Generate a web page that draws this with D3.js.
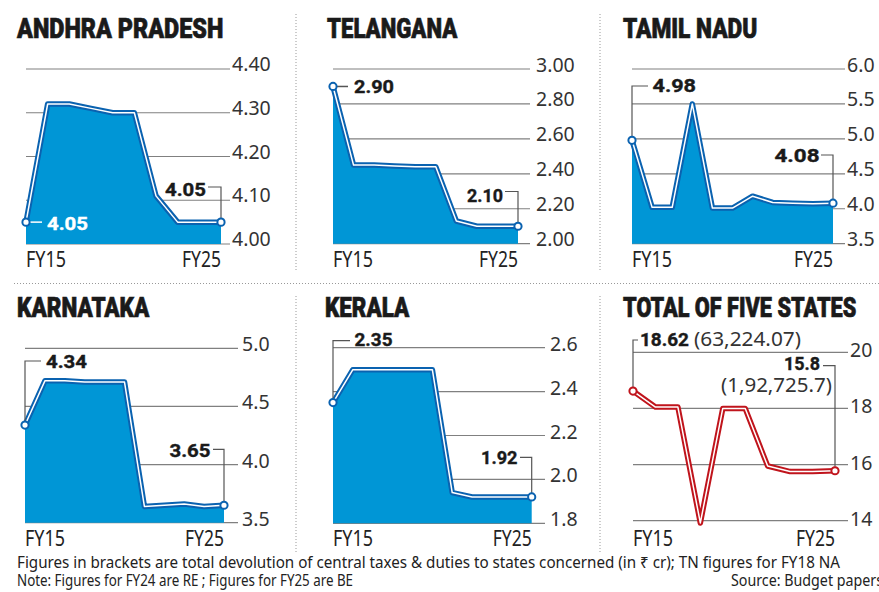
<!DOCTYPE html>
<html>
<head>
<meta charset="utf-8">
<style>
  body { margin: 0; background: #fff; }
  svg { display: block; }
</style>
<script src="https://cdn.jsdelivr.net/npm/d3@7"></script>
</head>
<body>
<svg id="chart"></svg>
<script>
// data
const fyLabels = ["FY15", "FY25"];

const apValues = [4.05, 4.32, 4.32, 4.31, 4.30, 4.30, 4.11, 4.05, 4.05, 4.05];
const tgValues = [2.90, 2.45, 2.45, 2.445, 2.44, 2.44, 2.13, 2.10, 2.10, 2.10];
const tnValues = [4.98, 4.02, 4.02, 5.50, 4.01, 4.01, 4.18, 4.09, 4.08, 4.07, 4.08];
const kaValues = [4.34, 4.72, 4.72, 4.71, 4.71, 4.71, 3.64, 3.65, 3.66, 3.64, 3.65];
const klValues = [2.35, 2.50, 2.50, 2.50, 2.50, 2.50, 1.94, 1.92, 1.92, 1.92, 1.92];
const totalValues = [18.62, 18.05, 18.05, 13.92, 18.0, 18.0, 15.95, 15.75, 15.75, 15.78];

const apTicks = [4.0, 4.1, 4.2, 4.3, 4.4];
const tgTicks = [2.0, 2.2, 2.4, 2.6, 2.8, 3.0];
const tnTicks = [3.5, 4.0, 4.5, 5.0, 5.5, 6.0];
const kaTicks = [3.5, 4.0, 4.5, 5.0];
const klTicks = [1.8, 2.0, 2.2, 2.4, 2.6];
const totalTicks = [14, 16, 18, 20];

const apNotes = ["4.05", "4.05"];
const tgNotes = ["2.90", "2.10"];
const tnNotes = ["4.98", "4.08"];
const kaNotes = ["4.34", "3.65"];
const klNotes = ["2.35", "1.92"];
const totalNotes = ["18.62", "(63,224.07)", "15.8", "(1,92,725.7)"];

const titles = ["ANDHRA PRADESH", "TELANGANA", "TAMIL NADU", "KARNATAKA", "KERALA", "TOTAL OF FIVE STATES"];
const footLines = [
  "Figures in brackets are total devolution of central taxes & duties to states concerned (in \u20b9 cr); TN figures for FY18 NA",
  "Note: Figures for FY24 are RE ; Figures for FY25 are BE"
];
const source = "Source: Budget papers";

const W = 879, H = 592;
const BLUE = "#0a62b0", FILL = "#0096d6", RED = "#c0141c";
const TITLE_FONT = "Roboto, 'Liberation Sans', sans-serif";
const TEXT_FONT = "'Noto Sans', 'Open Sans', sans-serif";

const svg = d3.select("#chart").attr("width", W).attr("height", H);

function fit(sel, w) {
    return sel.attr("textLength", w).attr("lengthAdjust", "spacingAndGlyphs");
}

// separators
const sep = svg.append("g").attr("stroke", "#999").attr("stroke-width", 1).attr("stroke-dasharray", "1,2");
sep.append("line").attr("x1", 296).attr("x2", 296).attr("y1", 14).attr("y2", 272);
sep.append("line").attr("x1", 600).attr("x2", 600).attr("y1", 14).attr("y2", 272);
sep.append("line").attr("x1", 14).attr("x2", W).attr("y1", 283.5).attr("y2", 283.5);
sep.append("line").attr("x1", 296).attr("x2", 296).attr("y1", 296).attr("y2", 552);
sep.append("line").attr("x1", 600).attr("x2", 600).attr("y1", 296).attr("y2", 552);

const panels = [
    { title: titles[0], tx: 17, ty: 38, tw: 207, values: apValues, ticks: apTicks, notes: apNotes, fmt: ".2f",
      x0: 26, x1: 221, gridEnd: 230, yTop: 69, yBot: 244, tickX: 232, tickDy: 2, fyY: 267, color: BLUE, fill: true,
      start: { kind: "h", lx: 42, color: "#fff", tx: 47, ty: 229.5, w: 41, textColor: "#fff" },
      end: { ly: 187, lx: 208, tx: 165, ty: 196, w: 41 } },
    { title: titles[1], tx: 327, ty: 38, tw: 131, values: tgValues, ticks: tgTicks, notes: tgNotes, fmt: ".2f",
      x0: 333, x1: 518, gridEnd: 530, yTop: 69, yBot: 243.7, tickX: 536, tickDy: 2.5, fyY: 267, color: BLUE, fill: true,
      start: { kind: "h", lx: 348, color: "#555", tx: 354, ty: 92.5, w: 40 },
      end: { ly: 191.5, lx: 505, tx: 467, ty: 201.5, w: 36 } },
    { title: titles[2], tx: 623, ty: 38, tw: 135, values: tnValues, ticks: tnTicks, notes: tnNotes, fmt: ".1f",
      x0: 632, x1: 833, gridEnd: 845, yTop: 69, yBot: 243.7, tickX: 847, tickDy: 2.5, fyY: 267, color: BLUE, fill: true,
      start: { kind: "elbow", ly: 86, lx: 648, tx: 652.5, ty: 91.5, w: 43.5 },
      end: { ly: 155, lx: 821, tx: 774.5, ty: 162, w: 45 } },
    { title: titles[3], tx: 17, ty: 316.7, tw: 133, values: kaValues, ticks: kaTicks, notes: kaNotes, fmt: ".1f",
      x0: 25, x1: 224, gridEnd: 238, yTop: 348.3, yBot: 522.7, tickX: 242, tickDy: 3, fyY: 545.7, color: BLUE, fill: true,
      start: { kind: "elbow", ly: 361, lx: 41, tx: 46, ty: 368, w: 41 },
      end: { ly: 449.3, lx: 213, tx: 169.5, ty: 456.5, w: 41 } },
    { title: titles[4], tx: 325, ty: 316.7, tw: 85, values: klValues, ticks: klTicks, notes: klNotes, fmt: ".1f",
      x0: 333, x1: 531.7, gridEnd: 545, yTop: 347.7, yBot: 523.3, tickX: 550, tickDy: 3, fyY: 545.7, color: BLUE, fill: true,
      start: { kind: "elbow", ly: 340.7, lx: 350, tx: 354.5, ty: 345.5, w: 38 },
      end: { ly: 457.3, lx: 520, tx: 481, ty: 464, w: 36.5 } },
    { title: titles[5], tx: 623, ty: 316.7, tw: 234, values: totalValues, ticks: totalTicks, notes: totalNotes, fmt: "d",
      x0: 633, x1: 835, gridEnd: 848, yTop: 352.3, yBot: 520.7, tickX: 850, tickDy: 5, fyY: 545.7, color: RED, fill: false,
      start: { kind: "elbow", ly: 340, lx: 638, tx: 640, ty: 345.5, w: 49, extra: { tx: 694, ty: 345.5, w: 107 } },
      end: { ly: 365.7, lx: 823, tx: 784, ty: 370, w: 36, extra: { tx: 721, ty: 391.5, w: 111 } } }
];

panels.forEach(drawPanel);

function drawPanel(p) {
    const g = svg.append("g");
    const n = p.values.length;
    const x = d3.scalePoint().domain(d3.range(n)).range([p.x0, p.x1]);
    const y = d3.scaleLinear()
        .domain([p.ticks[0], p.ticks[p.ticks.length - 1]])
        .range([p.yBot, p.yTop]);

    // title (thin stroke to get the heavy poster look)
    fit(g.append("text")
        .attr("x", p.tx).attr("y", p.ty)
        .attr("font-family", TITLE_FONT).attr("font-weight", 900)
        .attr("font-size", 28).attr("fill", "#1a1a1a")
        .attr("stroke", "#1a1a1a").attr("stroke-width", 0.7)
        .text(p.title), p.tw - 0.7);

    // gridlines
    g.selectAll(".grid")
        .data(p.ticks)
        .join("line")
        .attr("class", "grid")
        .attr("x1", p.x0).attr("x2", p.gridEnd)
        .attr("y1", d => y(d)).attr("y2", d => y(d))
        .attr("stroke", "#808080").attr("stroke-width", 1.2);

    // tick labels
    g.selectAll(".tick")
        .data(p.ticks)
        .join("text")
        .attr("class", "tick")
        .attr("x", p.tickX).attr("y", d => y(d) + p.tickDy)
        .attr("font-family", TEXT_FONT).attr("font-size", 19.5).attr("fill", "#333")
        .text(d => d3.format(p.fmt)(d));

    // area
    if (p.fill) {
        const area = d3.area()
            .x((d, i) => x(i))
            .y0(y(p.ticks[0]))
            .y1(d => y(d));
        g.append("path").attr("d", area(p.values)).attr("fill", FILL);
    }

    // line: coloured band with thin white core
    const line = d3.line().x((d, i) => x(i)).y(d => y(d));
    g.append("path").attr("d", line(p.values))
        .attr("fill", "none").attr("stroke", p.color).attr("stroke-width", 5.5)
        .attr("stroke-linejoin", "round");
    g.append("path").attr("d", line(p.values))
        .attr("fill", "none").attr("stroke", "#fff").attr("stroke-width", 1.5)
        .attr("stroke-linejoin", "round");

    // FY labels
    g.append("text").attr("x", p.x0).attr("y", p.fyY)
        .attr("font-family", TEXT_FONT).attr("font-size", 21).attr("fill", "#222")
        .call(s => fit(s, 40)).text(fyLabels[0]);
    g.append("text").attr("x", p.x1 - 39).attr("y", p.fyY)
        .attr("font-family", TEXT_FONT).attr("font-size", 21).attr("fill", "#222")
        .call(s => fit(s, 39)).text(fyLabels[1]);

    // leaders
    const fx = x(0), fy = y(p.values[0]);
    const lx = x(n - 1), ly = y(p.values[n - 1]);
    const s = p.start, e = p.end;
    if (s.kind === "h") {
        g.append("line").attr("x1", fx + 4).attr("x2", s.lx).attr("y1", fy).attr("y2", fy)
            .attr("stroke", s.color).attr("stroke-width", 1.5);
    } else {
        g.append("path").attr("d", `M${fx},${fy - 4}V${s.ly}H${s.lx}`)
            .attr("fill", "none").attr("stroke", "#555").attr("stroke-width", 1.2);
    }
    g.append("path").attr("d", `M${e.lx},${e.ly}H${lx}V${ly - 4}`)
        .attr("fill", "none").attr("stroke", "#555").attr("stroke-width", 1.2);

    // end circles
    g.selectAll(".dot")
        .data([0, n - 1])
        .join("circle")
        .attr("class", "dot")
        .attr("cx", i => x(i)).attr("cy", i => y(p.values[i]))
        .attr("r", 3.6)
        .attr("fill", "#fff").attr("stroke", p.color).attr("stroke-width", 2);

    // value labels
    const tc = s.textColor || "#1a1a1a";
    fit(g.append("text").attr("x", s.tx).attr("y", s.ty)
        .attr("font-family", TITLE_FONT).attr("font-weight", 700).attr("font-size", 19)
        .attr("fill", tc).attr("stroke", tc).attr("stroke-width", 0.4)
        .text(p.notes[0]), s.w);
    if (s.extra) {
        fit(g.append("text").attr("x", s.extra.tx).attr("y", s.extra.ty)
            .attr("font-family", TEXT_FONT).attr("font-size", 19).attr("fill", "#333")
            .text(p.notes[1]), s.extra.w);
    }
    fit(g.append("text").attr("x", e.tx).attr("y", e.ty)
        .attr("font-family", TITLE_FONT).attr("font-weight", 700).attr("font-size", 19)
        .attr("fill", "#1a1a1a").attr("stroke", "#1a1a1a").attr("stroke-width", 0.4)
        .text(p.notes[s.extra ? 2 : 1]), e.w);
    if (e.extra) {
        fit(g.append("text").attr("x", e.extra.tx).attr("y", e.extra.ty)
            .attr("font-family", TEXT_FONT).attr("font-size", 19).attr("fill", "#333")
            .text(p.notes[3]), e.extra.w);
    }
}

// footer
fit(svg.append("text").attr("x", 17).attr("y", 568)
    .attr("font-family", TEXT_FONT).attr("font-size", 15.5).attr("fill", "#222")
    .text(footLines[0]), 823);
fit(svg.append("text").attr("x", 17).attr("y", 586)
    .attr("font-family", TEXT_FONT).attr("font-size", 15.5).attr("fill", "#222")
    .text(footLines[1]), 336);
fit(svg.append("text").attr("x", 731).attr("y", 586)
    .attr("font-family", TEXT_FONT).attr("font-size", 15.5).attr("fill", "#222")
    .text(source), 152);
</script>
</body>
</html>
